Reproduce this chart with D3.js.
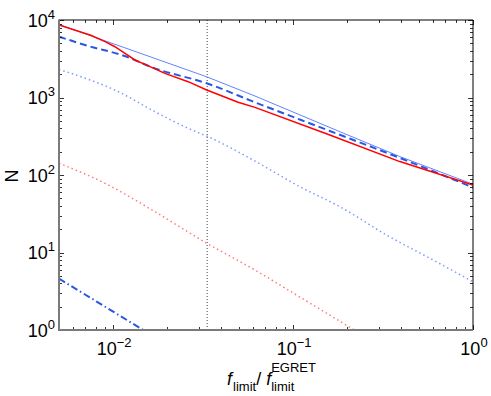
<!DOCTYPE html>
<html><head><meta charset="utf-8">
<script src="https://cdn.jsdelivr.net/npm/d3@7"></script>
<style>body{margin:0;background:#fff}svg{display:block}text{font-family:"Liberation Sans",Arial,sans-serif;fill:#000}</style>
</head><body>
<svg id="c" width="491" height="396"></svg>
<script>
// ---- data ----
const xMajorTicks = [0.01, 0.1, 1];
const xTickExps = ["\u22122", "\u22121", "0"];
const yMajorTicks = [1, 10, 100, 1000, 10000];
const yTickExps = ["0", "1", "2", "3", "4"];
const fLimitMarker = 0.0333;

const blueSolidX = [0.005, 0.0331, 0.0614, 0.182, 0.392, 1];
const blueSolidN = [8750, 1850, 1045, 362, 173, 76];

const redSolidX = [0.005, 0.0075, 0.00902, 0.01023, 0.01164, 0.01321, 0.01503, 0.0194, 0.0261, 0.0331, 0.0495, 0.0614, 0.160, 0.392, 1];
const redSolidN = [8650, 6350, 5250, 4520, 3715, 3050, 2680, 2050, 1600, 1250, 867, 746, 328, 149, 74];

const blueDashX = [0.005, 0.00728, 0.01114, 0.01706, 0.0331, 0.0614, 0.160, 0.392, 1];
const blueDashN = [6100, 4620, 3530, 2380, 1525, 867, 370, 166, 69];

const blueDotX = [0.005, 0.01114, 0.01706, 0.0261, 0.0337, 0.060, 0.109, 0.182, 0.331, 0.600, 1];
const blueDotN = [2310, 1132, 656, 401, 312, 156, 70.6, 39, 16.8, 8.0, 4.2];

const redDotX = [0.005, 0.00902, 0.01706, 0.0331, 0.0614, 0.094, 0.219];
const redDotN = [142, 78, 33.6, 13.2, 5.94, 3.28, 1.0];

const blueDashDotX = [0.005, 0.0147];
const blueDashDotN = [4.6, 1.0];

// ---- drawing ----
const svg = d3.select("#c");
const L = 59, R = 473, T = 20, B = 330;
const x = d3.scaleLog().domain([0.005, 1]).range([L, R]);
const y = d3.scaleLog().domain([1, 1e4]).range([B, T]);

const plot = svg.append("g");
svg.append("clipPath").attr("id", "clip").append("rect")
  .attr("x", L).attr("y", T).attr("width", R - L).attr("height", B - T);

// vertical dotted marker
plot.append("line")
  .attr("x1", x(fLimitMarker)).attr("x2", x(fLimitMarker))
  .attr("y1", T).attr("y2", B)
  .attr("stroke", "#444").attr("stroke-width", 1).attr("stroke-dasharray", "1,2");

function series(xs, ns, style) {
  const pts = xs.map((v, i) => [x(v), y(ns[i])]);
  const line = d3.line().curve(style.curve || d3.curveMonotoneX);
  plot.append("path")
    .attr("clip-path", "url(#clip)")
    .attr("d", line(pts))
    .attr("fill", "none")
    .attr("stroke", style.color)
    .attr("stroke-width", style.width)
    .attr("stroke-dasharray", style.dash || null);
}
series(blueDotX, blueDotN, {color: "#7f9bff", width: 1.5, dash: "1.5,3"});
series(redDotX, redDotN, {color: "#ff7a7a", width: 1.5, dash: "1.5,3"});
series(blueDashDotX, blueDashDotN, {color: "#2a56e8", width: 2, dash: "7,3,1.5,3"});
series(blueSolidX, blueSolidN, {color: "#6283ff", width: 1, curve: d3.curveLinear});
series(blueDashX, blueDashN, {color: "#2a56e8", width: 2, dash: "7,4"});
series(redSolidX, redSolidN, {color: "#ff0000", width: 1.5, curve: d3.curveLinear});

// ticks (all four sides, inward)
const axes = svg.append("g");
const isMajor = v => Math.abs(Math.log10(v) - Math.round(Math.log10(v))) < 1e-9;
x.ticks().forEach(v => {
  const len = isMajor(v) ? 5 : 3;
  const px = Math.round(x(v)) + 0.5;
  axes.append("line").attr("x1", px).attr("x2", px).attr("y1", B).attr("y2", B - len).attr("stroke", "#000").attr("stroke-width", 0.8);
  axes.append("line").attr("x1", px).attr("x2", px).attr("y1", T).attr("y2", T + len).attr("stroke", "#000").attr("stroke-width", 0.8);
});
y.ticks().forEach(v => {
  const len = isMajor(v) ? 5 : 3;
  const py = Math.round(y(v)) + 0.5;
  axes.append("line").attr("x1", L).attr("x2", L + len).attr("y1", py).attr("y2", py).attr("stroke", "#000").attr("stroke-width", 0.8);
  axes.append("line").attr("x1", R).attr("x2", R - len).attr("y1", py).attr("y2", py).attr("stroke", "#000").attr("stroke-width", 0.8);
});

// frame
axes.append("line").attr("x1", L).attr("x2", R).attr("y1", T).attr("y2", T).attr("stroke", "#000").attr("stroke-width", 1);
axes.append("line").attr("x1", R).attr("x2", R).attr("y1", T).attr("y2", B).attr("stroke", "#000").attr("stroke-width", 1);
axes.append("line").attr("x1", L).attr("x2", L).attr("y1", T - 0.5).attr("y2", B + 1).attr("stroke", "#7a7a7a").attr("stroke-width", 2);
axes.append("line").attr("x1", L - 1).attr("x2", R).attr("y1", B).attr("y2", B).attr("stroke", "#7a7a7a").attr("stroke-width", 2);

// tick labels
function powLabel(g, px, py, exp, anchor) {
  const t = g.append("text").attr("font-size", 18);
  t.append("tspan").text("10");
  t.append("tspan").attr("font-size", 13).attr("dy", -8).text(exp);
  const w = t.node().getComputedTextLength();
  const x0 = anchor === "end" ? px - w : px - w / 2;
  t.attr("x", x0).attr("y", py);
  return t;
}
xMajorTicks.forEach((v, i) => powLabel(svg, x(v) + 1, 355, xTickExps[i], "middle"));
yMajorTicks.forEach((v, i) => powLabel(svg, 55, y(v) + 6.5, yTickExps[i], "end"));

// y label
svg.append("text").attr("font-size", 18)
  .attr("transform", "translate(18,176) rotate(-90)")
  .attr("text-anchor", "middle").text("N");

// x label: f_limit / f_limit^EGRET
const xl = svg.append("g");
const baseY = 385;
let cx = 0;
function piece(txt, size, dy, italic, advance) {
  const t = xl.append("text").attr("font-size", size).attr("x", cx).attr("y", baseY + dy)
    .attr("font-style", italic ? "italic" : null).text(txt);
  const w = t.node().getComputedTextLength();
  if (advance) cx += w;
  return w;
}
piece("f", 18, 0, true, true);
cx += 1;
piece("limit", 13, 6, false, true);
piece("/", 18, 0, false, true);
cx += 5;
piece("f", 18, 0, true, true);
const w1 = piece("EGRET", 13, -13, false, false);
const w2 = piece("limit", 13, 6, false, false);
cx += Math.max(w1, w2);
const shift = 271.5 - cx / 2;
xl.attr("transform", `translate(${shift},0)`);
</script>
</body></html>
